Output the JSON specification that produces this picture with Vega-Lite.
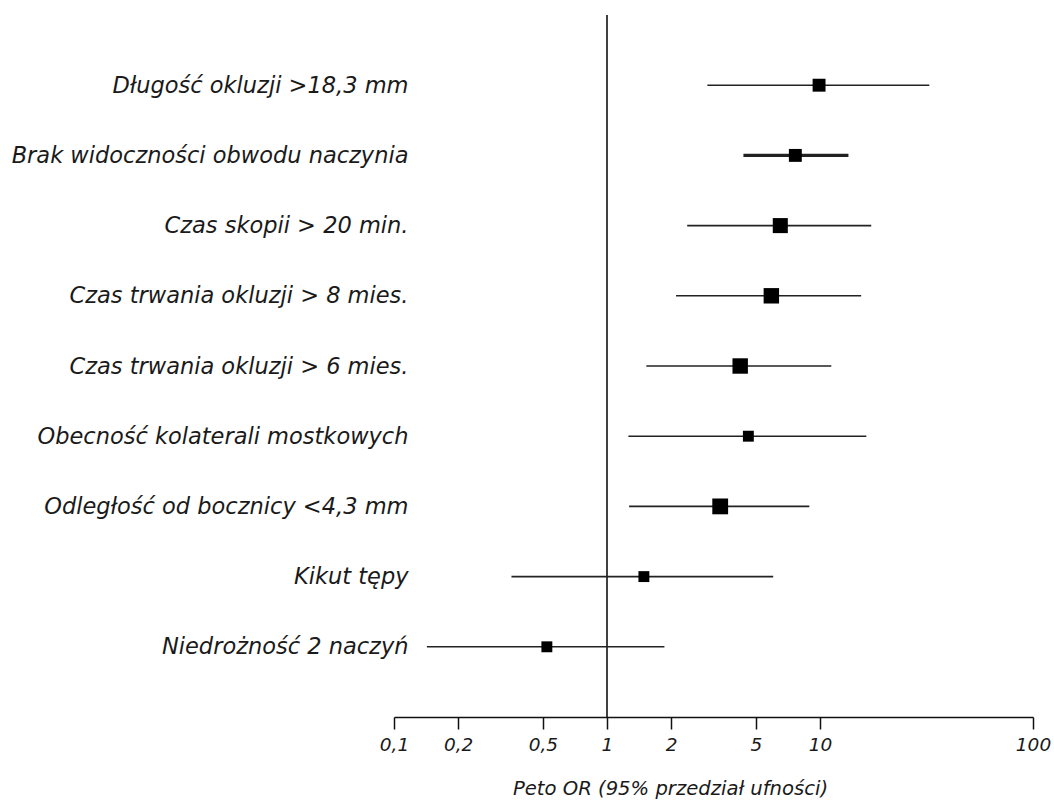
{
  "$schema": "https://vega.github.io/schema/vega-lite/v6.json",
  "width": 639,
  "height": 702,
  "autosize": {"type": "none"},
  "padding": {"left": 394, "top": 15, "right": 21, "bottom": 87},
  "background": "white",
  "config": {"view": {"stroke": null}, "font": "DejaVu Sans"},
  "data": {
    "values": [
      {"czynnik": "Długość okluzji >18,3 mm", "or": 9.9, "dolny": 2.96, "gorny": 32.6, "waga": 1.4},
      {"czynnik": "Brak widoczności obwodu naczynia", "or": 7.66, "dolny": 4.37, "gorny": 13.6, "waga": 1.4},
      {"czynnik": "Czas skopii > 20 min.", "or": 6.51, "dolny": 2.38, "gorny": 17.4, "waga": 1.9},
      {"czynnik": "Czas trwania okluzji > 8 mies.", "or": 5.91, "dolny": 2.11, "gorny": 15.6, "waga": 2.0},
      {"czynnik": "Czas trwania okluzji > 6 mies.", "or": 4.22, "dolny": 1.53, "gorny": 11.3, "waga": 2.0},
      {"czynnik": "Obecność kolaterali mostkowych", "or": 4.61, "dolny": 1.26, "gorny": 16.5, "waga": 1.0},
      {"czynnik": "Odległość od bocznicy <4,3 mm", "or": 3.4, "dolny": 1.27, "gorny": 8.91, "waga": 2.1},
      {"czynnik": "Kikut tępy", "or": 1.49, "dolny": 0.356, "gorny": 6.03, "waga": 1.0},
      {"czynnik": "Niedrożność 2 naczyń", "or": 0.522, "dolny": 0.1427, "gorny": 1.86, "waga": 1.0}
    ]
  },
  "layer": [
    {
      "data": {"values": [{"ref": 1}]},
      "mark": {"type": "rule", "color": "#111111", "strokeWidth": 1.6},
      "encoding": {
        "x": {"field": "ref", "type": "quantitative", "scale": {"type": "log", "domain": [0.1, 100], "nice": false}}
      }
    },
    {
      "mark": {"type": "rule", "color": "#222222"},
      "encoding": {
        "y": {
          "field": "czynnik", "type": "nominal", "sort": null,
          "scale": {"type": "point", "padding": 1.07},
          "axis": {
            "title": null, "domain": false, "ticks": false, "tickSize": 0, "grid": false,
            "labelPadding": -14, "labelFont": "DejaVu Sans", "labelFontSize": 22.5,
            "labelFontStyle": "italic", "labelColor": "#1a1a1a", "labelLimit": 0
          }
        },
        "x": {
          "field": "dolny", "type": "quantitative",
          "scale": {"type": "log", "domain": [0.1, 100], "nice": false},
          "axis": {
            "title": "Peto OR (95% przedział ufności)",
            "values": [0.1, 0.2, 0.5, 1, 2, 5, 10, 100],
            "labelExpr": "replace(format(datum.value, '~g'), '.', ',')",
            "grid": false, "labelFlush": false, "labelOverlap": false,
            "domainColor": "#111111", "domainWidth": 1.5,
            "tickColor": "#111111", "tickWidth": 1.5, "tickSize": 12,
            "labelFont": "DejaVu Sans", "labelFontSize": 18.5, "labelFontStyle": "italic",
            "labelColor": "#1a1a1a", "labelPadding": 6,
            "titleFont": "DejaVu Sans", "titleFontSize": 19.6, "titleFontStyle": "italic",
            "titleFontWeight": "normal", "titleColor": "#1a1a1a",
            "titleX": 276, "titleY": 71, "titleBaseline": "middle"
          }
        },
        "x2": {"field": "gorny"},
        "strokeWidth": {
          "condition": {"test": "datum.czynnik === 'Brak widoczności obwodu naczynia'", "value": 3.2},
          "value": 1.6
        }
      }
    },
    {
      "mark": {"type": "point", "shape": "square", "filled": true, "color": "#000000", "opacity": 1},
      "encoding": {
        "y": {"field": "czynnik", "type": "nominal", "sort": null},
        "x": {"field": "or", "type": "quantitative"},
        "size": {
          "field": "waga", "type": "quantitative",
          "scale": {"domain": [0, 2.1], "range": [0, 250], "zero": true},
          "legend": null
        }
      }
    }
  ]
}
